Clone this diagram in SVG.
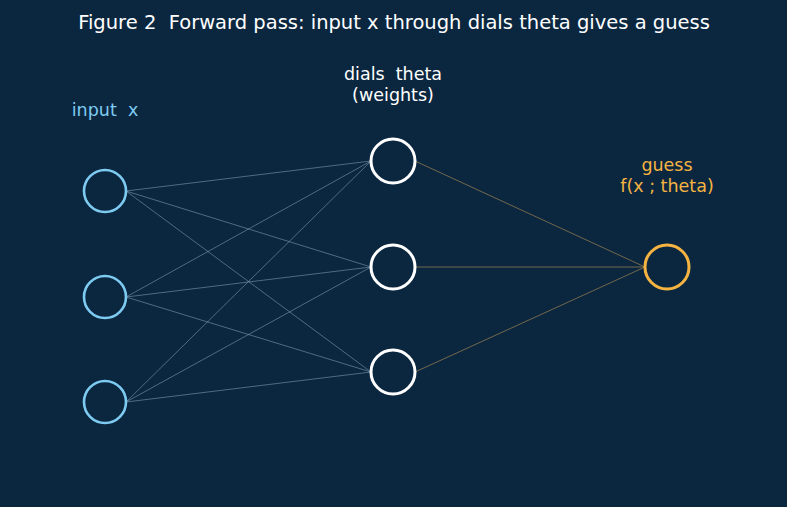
<svg xmlns="http://www.w3.org/2000/svg" width="787" height="507" viewBox="0 0 787 507">
<style>
text{font-family:"DejaVu Sans","Liberation Sans",sans-serif;text-anchor:middle;white-space:pre}
.title{font-size:19.5px;fill:#ffffff}
.lbl{font-size:17.5px}
.in{fill:none;stroke:#7ecbf2;stroke-width:2.6}
.hid{fill:none;stroke:#ffffff;stroke-width:3}
.out{fill:none;stroke:#f5b342;stroke-width:3}
.wb{stroke:#8fb0c8;stroke-opacity:0.5;stroke-width:1}
.wo{stroke:#d9a857;stroke-opacity:0.5;stroke-width:1}
</style>
<rect width="787" height="507" fill="#0b2740"/>
<text class="title" x="394" y="29" xml:space="preserve">Figure 2  Forward pass: input x through dials theta gives a guess</text>
<g id="connectors">
<line class="wb" x1="126" y1="191" x2="371" y2="161"/>
<line class="wb" x1="126" y1="191" x2="371" y2="267"/>
<line class="wb" x1="126" y1="191" x2="371" y2="372"/>
<line class="wb" x1="126" y1="297" x2="371" y2="161"/>
<line class="wb" x1="126" y1="297" x2="371" y2="267"/>
<line class="wb" x1="126" y1="297" x2="371" y2="372"/>
<line class="wb" x1="126" y1="402" x2="371" y2="161"/>
<line class="wb" x1="126" y1="402" x2="371" y2="267"/>
<line class="wb" x1="126" y1="402" x2="371" y2="372"/>
<line class="wo" x1="415" y1="161" x2="645" y2="267"/>
<line class="wo" x1="415" y1="267" x2="645" y2="267"/>
<line class="wo" x1="415" y1="372" x2="645" y2="267"/>
</g>
<g id="input-label"><text class="lbl" x="105" y="116" fill="#7ecbf2" xml:space="preserve">input  x</text></g>
<g id="theta-label"><text class="lbl" x="393" y="80" fill="#ffffff" xml:space="preserve">dials  theta</text><text class="lbl" x="393" y="101" fill="#ffffff">(weights)</text></g>
<g id="guess-label"><text class="lbl" x="667" y="171" fill="#f5b342">guess</text><text class="lbl" x="667" y="192" fill="#f5b342">f(x ; theta)</text></g>
<g id="x1"><circle class="in" cx="105" cy="191" r="21"/></g>
<g id="x2"><circle class="in" cx="105" cy="297" r="21"/></g>
<g id="x3"><circle class="in" cx="105" cy="402" r="21"/></g>
<g id="h1"><circle class="hid" cx="393" cy="161" r="22"/></g>
<g id="h2"><circle class="hid" cx="393" cy="267" r="22"/></g>
<g id="h3"><circle class="hid" cx="393" cy="372" r="22"/></g>
<g id="out"><circle class="out" cx="667" cy="267" r="22"/></g>
</svg>
